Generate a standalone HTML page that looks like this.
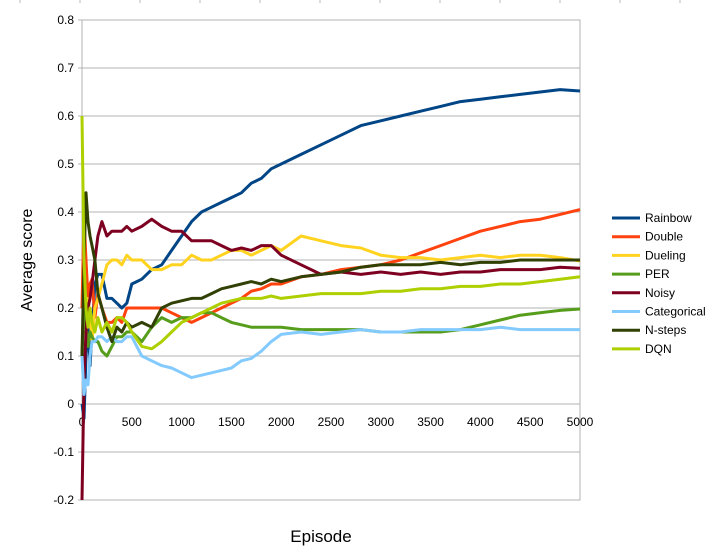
<!DOCTYPE html>
<html><head><meta charset="utf-8"><style>
body{margin:0;background:#fff;font-family:"Liberation Sans",sans-serif}
svg text{font-family:"Liberation Sans",sans-serif}
</style></head><body>
<svg id="chart" width="712" height="554" viewBox="0 0 712 554">
<g id="topticks"></g>
<g id="grid"></g>
<g id="series"></g>
<g id="legend"></g>
<text x="32" y="260" font-size="16" text-anchor="middle" transform="rotate(-90 32 260)">Average score</text>
<text x="321" y="542" font-size="17" text-anchor="middle">Episode</text>
</svg>
<script>
const episodes=[0,20,40,60,80,100,130,160,200,250,300,350,400,450,500,600,700,800,900,1000,1100,1200,1300,1400,1500,1600,1700,1800,1900,2000,2200,2400,2600,2800,3000,3200,3400,3600,3800,4000,4200,4400,4600,4800,5000];
const seriesNames=["Rainbow","Double","Dueling","PER"," Noisy","Categorical","N-steps","DQN"];
const rainbow=[0.0,-0.03,0.1,0.18,0.08,0.15,0.25,0.27,0.27,0.22,0.22,0.21,0.2,0.21,0.25,0.26,0.28,0.29,0.32,0.35,0.38,0.4,0.41,0.42,0.43,0.44,0.46,0.47,0.49,0.5,0.52,0.54,0.56,0.58,0.59,0.6,0.61,0.62,0.63,0.635,0.64,0.645,0.65,0.655,0.652];
const double=[0.2,0.39,0.3,0.22,0.25,0.26,0.18,0.23,0.2,0.17,0.17,0.18,0.17,0.2,0.2,0.2,0.2,0.2,0.19,0.18,0.17,0.18,0.19,0.2,0.21,0.22,0.235,0.24,0.25,0.25,0.265,0.27,0.28,0.285,0.29,0.3,0.315,0.33,0.345,0.36,0.37,0.38,0.385,0.395,0.405];
const dueling=[0.1,0.25,0.19,0.22,0.18,0.13,0.2,0.22,0.25,0.29,0.3,0.3,0.29,0.31,0.3,0.3,0.28,0.28,0.29,0.29,0.31,0.3,0.3,0.31,0.32,0.32,0.31,0.32,0.33,0.32,0.35,0.34,0.33,0.325,0.31,0.305,0.305,0.3,0.305,0.31,0.305,0.31,0.31,0.305,0.298];
const per=[0.1,0.2,0.16,0.12,0.15,0.14,0.13,0.13,0.11,0.1,0.12,0.14,0.14,0.15,0.15,0.13,0.16,0.18,0.17,0.18,0.18,0.19,0.19,0.18,0.17,0.165,0.16,0.16,0.16,0.16,0.155,0.155,0.155,0.155,0.15,0.15,0.15,0.15,0.155,0.165,0.175,0.185,0.19,0.195,0.198];
const noisy=[-0.2,0.05,0.15,0.2,0.22,0.25,0.3,0.35,0.38,0.35,0.36,0.36,0.36,0.37,0.36,0.37,0.385,0.37,0.36,0.36,0.34,0.34,0.34,0.33,0.32,0.325,0.32,0.33,0.33,0.31,0.29,0.27,0.275,0.27,0.275,0.27,0.275,0.27,0.275,0.275,0.28,0.28,0.28,0.285,0.283];
const categorical=[0.1,0.02,0.05,0.04,0.1,0.13,0.13,0.14,0.14,0.13,0.14,0.13,0.13,0.14,0.14,0.1,0.09,0.08,0.075,0.065,0.055,0.06,0.065,0.07,0.075,0.09,0.095,0.11,0.13,0.145,0.15,0.145,0.15,0.155,0.15,0.15,0.155,0.155,0.155,0.155,0.16,0.155,0.155,0.155,0.155];
const nsteps=[0.1,0.3,0.44,0.38,0.35,0.33,0.3,0.23,0.2,0.16,0.13,0.16,0.15,0.17,0.16,0.17,0.16,0.2,0.21,0.215,0.22,0.22,0.23,0.24,0.245,0.25,0.255,0.25,0.26,0.255,0.265,0.27,0.275,0.285,0.29,0.29,0.29,0.295,0.29,0.295,0.295,0.3,0.3,0.3,0.3];
const dqn=[0.6,0.3,0.2,0.16,0.2,0.17,0.15,0.18,0.15,0.17,0.15,0.18,0.18,0.17,0.15,0.12,0.115,0.13,0.15,0.17,0.18,0.19,0.2,0.21,0.215,0.22,0.22,0.22,0.225,0.22,0.225,0.23,0.23,0.23,0.235,0.235,0.24,0.24,0.245,0.245,0.25,0.25,0.255,0.26,0.265];
const yTicks=[-0.2,-0.1,0,0.1,0.2,0.3,0.4,0.5,0.6,0.7,0.8];
const xTicks=[0,500,1000,1500,2000,2500,3000,3500,4000,4500,5000];
const colors=["#004586","#ff420e","#ffd320","#579d1c","#7e0021","#83caff","#314004","#aecf00"];
const allSeries=[rainbow,double,dueling,per,noisy,categorical,nsteps,dqn];
const NS="http://www.w3.org/2000/svg";
const L=82,R=580,T=20,B=500;
const xs=v=>L+(v-0)/(5000)*(R-L);
const ys=v=>B-(v+0.2)/1.0*(B-T);
function mk(tag,attrs,parent){const e=document.createElementNS(NS,tag);for(const k in attrs)e.setAttribute(k,attrs[k]);parent.appendChild(e);return e;}
const tt=document.getElementById('topticks');
for(let x=20;x<=700;x+=60){const l=mk('line',{x1:x,x2:x,y1:0,y2:3,stroke:'#bbb'},tt);

}
const g=document.getElementById('grid');
yTicks.forEach(v=>{
 const l=mk('line',{x1:L-4,x2:R,y1:ys(v),y2:ys(v),stroke:'#b3b3b3','stroke-width':1},g);
 
 
 const t=mk('text',{x:L-8,y:ys(v)+4,'font-size':12,'text-anchor':'end'},g);t.textContent=String(v);
 
 
});
const fr=mk('rect',{x:L,y:T,width:R-L,height:B-T,fill:'none',stroke:'#b3b3b3'},g);


xTicks.forEach(v=>{
 const t=mk('text',{x:xs(v),y:ys(0)+22,'font-size':12,'text-anchor':'middle'},g);t.textContent=String(v);
 
 
});
const sg=document.getElementById('series');
const lg=document.getElementById('legend');
allSeries.forEach((arr,i)=>{
 const d=arr.map((v,j)=>(j?'L':'M')+xs(episodes[j]).toFixed(1)+','+ys(v).toFixed(1)).join('');
 const p=mk('path',{d:d,fill:'none',stroke:colors[i],'stroke-width':3,'stroke-linejoin':'round'},sg);
 
 
 const y=218+i*18.7;
 const le=mk('g',{},lg);
 
 
 mk('line',{x1:612,x2:640,y1:y,y2:y,stroke:colors[i],'stroke-width':3},le);
 const t=mk('text',{x:645,y:y+4,'font-size':12},le);t.textContent=seriesNames[i];
});
</script>
</body></html>
